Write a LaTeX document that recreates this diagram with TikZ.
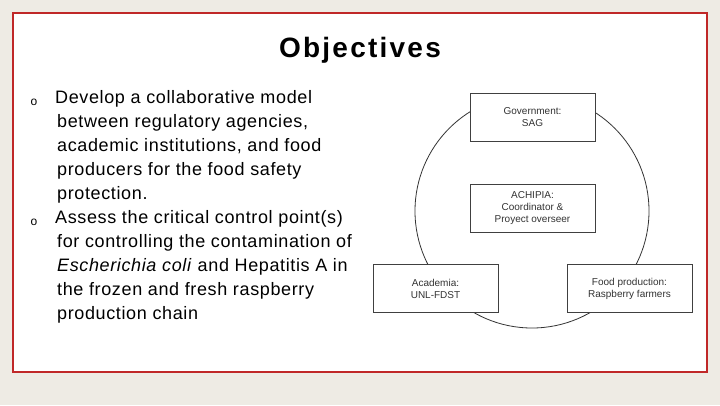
\documentclass[tikz,border=0pt]{standalone}
\usepackage{fontspec}
\setmainfont{Liberation Sans}
\begin{document}
\begin{tikzpicture}[x=1pt,y=-1pt,
  box/.style={draw=black!75,line width=0.7pt,minimum width=125pt,minimum height=48pt,align=center,font=\fontsize{10}{12}\selectfont,text=black!80},
  btxt/.style={anchor=north west,align=left,font=\fontsize{18}{24}\selectfont\addfontfeature{LetterSpace=3.5},inner sep=0pt}]
\fill[fill={rgb,255:red,238;green,235;blue,228}] (0,0) rectangle (720,405);
\useasboundingbox (0,0) rectangle (720,405);
\draw[fill=white,draw={rgb,255:red,192;green,40;blue,40},line width=2pt] (13,13) rectangle (707,372);
\node[font=\bfseries\fontsize{28}{30}\selectfont\addfontfeature{LetterSpace=8}] (title) at (360,50) {Objectives};
\node[font=\fontsize{12}{12}\selectfont] (b1) at (34,102) {o};
\node[font=\fontsize{12}{12}\selectfont] (b2) at (34,222) {o};
\node[btxt] (t1) at (55,90) {Develop a collaborative model\\\hspace*{2pt}between regulatory agencies,\\\hspace*{2pt}academic institutions, and food\\\hspace*{2pt}producers for the food safety\\\hspace*{2pt}protection.};
\node[btxt] (t2) at (55,210) {Assess the critical control point(s)\\\hspace*{2pt}for controlling the contamination of\\\hspace*{2pt}\textit{Escherichia coli} and Hepatitis A in\\\hspace*{2pt}the frozen and fresh raspberry\\\hspace*{2pt}production chain};
\draw[black!80,line width=0.8pt] (532,211) circle (117);
\node[box,fill=white] (gov) at (532.5,117.5) {Government:\\SAG};
\node[box,fill=white] (ach) at (532.5,208) {ACHIPIA:\\Coordinator \&\\Proyect overseer};
\node[box,fill=white] (aca) at (435.5,288.5) {Academia:\\UNL-FDST};
\node[box,fill=white] (food) at (629.5,288.5) {Food production:\\Raspberry farmers};
\end{tikzpicture}
\end{document}
